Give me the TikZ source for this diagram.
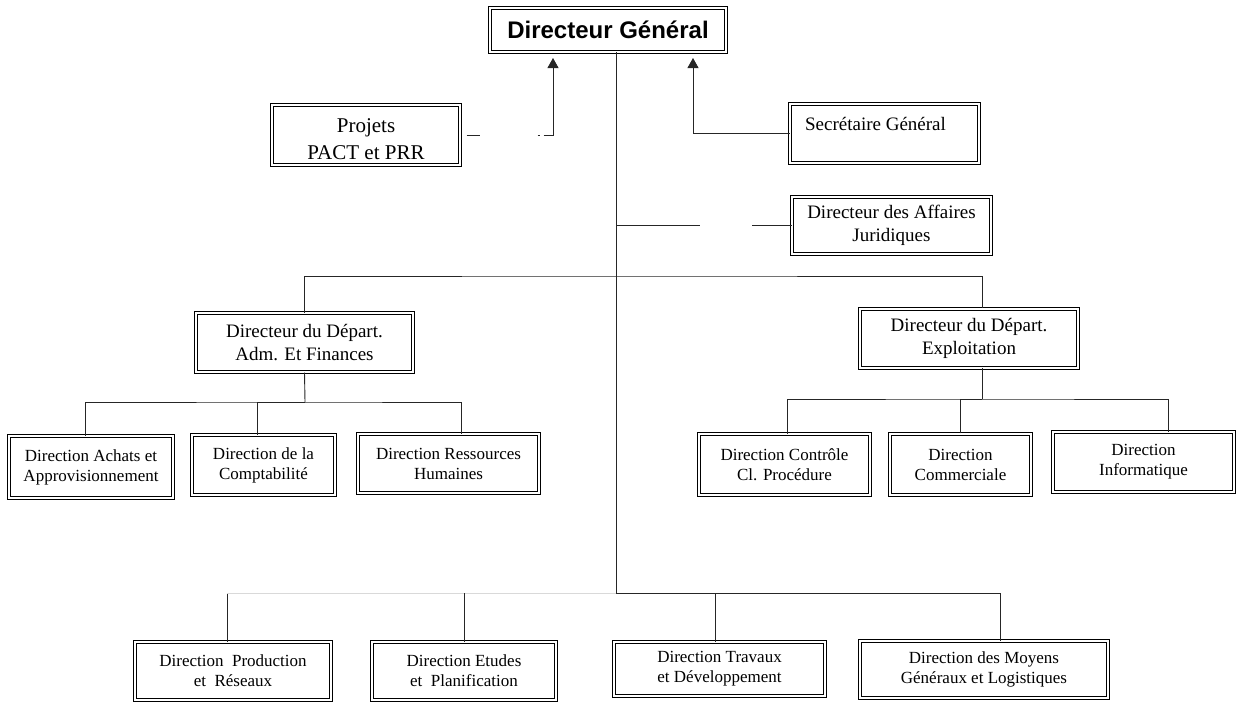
\documentclass[tikz,border=0pt]{standalone}
\usepackage{fontspec}
\setmainfont{Liberation Serif}
\newfontfamily\headfont{Liberation Sans}
\usetikzlibrary{arrows.meta}
\begin{document}
\begin{tikzpicture}[x=1pt,y=-1pt,
  box/.style={draw=black, line width=1pt, double, double distance=2pt,
    align=center, inner sep=0pt, font=\fontsize{19}{23}\selectfont},
  small/.style={font=\fontsize{17}{20}\selectfont},
  conn/.style={draw=black!85, line width=0.9pt},
  faint/.style={draw=black!15, line width=0.7pt},
  tip/.style={-{Triangle[length=10pt,width=11pt]}}]
\useasboundingbox (0,0) rectangle (1239,705);

% --- top management ---
\node[box, minimum width=236pt, minimum height=44pt,
      font=\headfont\bfseries\fontsize{24}{28}\selectfont] (dg) at (608,29.5) {Directeur Général};
\node[box, minimum width=188pt, minimum height=60pt,
      font=\fontsize{21}{27}\selectfont] (proj) at (366,135) {\rule{0pt}{22pt}Projets\\PACT et PRR};
\node[box, minimum width=189pt, minimum height=59pt] (secr) at (884.5,133.5)
      {\raisebox{3.5pt}[0pt][0pt]{Secrétaire Général}\hspace{18pt}};
\node[box, minimum width=199pt, minimum height=57pt] (jur) at (891.5,225.5) {Directeur des Affaires\\Juridiques};

% --- departments ---
\node[box, minimum width=217pt, minimum height=59pt] (adm) at (304.5,342.5) {Directeur du Départ.\\Adm. Et Finances};
\node[box, minimum width=218pt, minimum height=59pt] (expl) at (969,338) {Directeur du Départ.\\Exploitation};

% --- directions under the departments ---
\node[box, small, minimum width=164pt, minimum height=62pt] (ach) at (91,467) {Direction Achats et\\Approvisionnement};
\node[box, small, minimum width=143pt, minimum height=60pt] (comp) at (263.5,465) {Direction de la\\Comptabilité};
\node[box, small, minimum width=181pt, minimum height=59pt] (res) at (448.5,463.5) {Direction Ressources\\Humaines};
\node[box, small, minimum width=171pt, minimum height=61pt] (ctl) at (784.5,464.5) {Direction Contrôle\\Cl. Procédure};
\node[box, small, minimum width=141pt, minimum height=61pt, line width=1.2pt] (com) at (960.5,464.5) {Direction\\Commerciale};
\node[box, small, minimum width=181pt, minimum height=60pt] (inf) at (1143.5,462) {Direction\\Informatique};

% --- directions attached to the general manager ---
\node[box, small, minimum width=196pt, minimum height=58pt] (prod) at (233,671) {Direction\ \ Production\\et\ \ Réseaux};
\node[box, small, minimum width=184pt, minimum height=58pt] (etu) at (464,671) {Direction Etudes\\et\ \ Planification};
\node[box, small, minimum width=211pt, minimum height=54pt] (trav) at (719.5,669) {Direction Travaux\\et Développement};
\node[box, small, minimum width=248pt, minimum height=57pt] (moy) at (984,669.5) {Direction des Moyens\\Généraux et Logistiques};

% --- connectors ---
\coordinate (trunk) at ([xshift=8pt]dg.south);
\coordinate (hub) at (616,593);
\coordinate (busT) at (616,276);
\coordinate (busA) at (305,402);
\coordinate (busB) at (982,399);
\coordinate (busL) at (227,593);

\draw[conn] (trunk) -- (hub);

\draw[conn, tip, dash pattern=on 0pt off 6pt on 13pt off 58pt on 2pt off 4pt on 500pt]
  (proj.east) -| ([xshift=-55pt,yshift=-6pt]dg.south);
\draw[conn, tip] (secr.west) -| ([xshift=85pt,yshift=-6pt]dg.south);
\draw[conn, dash pattern=on 84pt off 52pt on 300pt] (jur.west -| trunk) -- (jur.west);

\draw[conn] (adm.north) |- (busT) -| ([xshift=13pt]expl.north);

\draw[conn] (adm.south) -- (busA);
\draw[conn] ([xshift=-6pt]ach.north) |- (busA) -| ([xshift=12.5pt]res.north);
\draw[conn] ([xshift=-6.5pt]comp.north) |- (busA);

\draw[conn] ([xshift=13pt]expl.south) -- (busB);
\draw[conn] ([xshift=2.5pt]ctl.north) |- (busB) -| ([xshift=24.5pt]inf.north);
\draw[conn] (com.north) |- (busB);

\draw[conn] ([xshift=-6pt]prod.north) -- (busL);
\draw[faint] (busL) -- (hub);
\draw[conn] (etu.north) -- (etu.north |- hub);
\draw[conn] (hub) -| ([xshift=-4.5pt]trav.north);
\draw[conn] (hub) -| ([xshift=16pt]moy.north);
\end{tikzpicture}
\end{document}
